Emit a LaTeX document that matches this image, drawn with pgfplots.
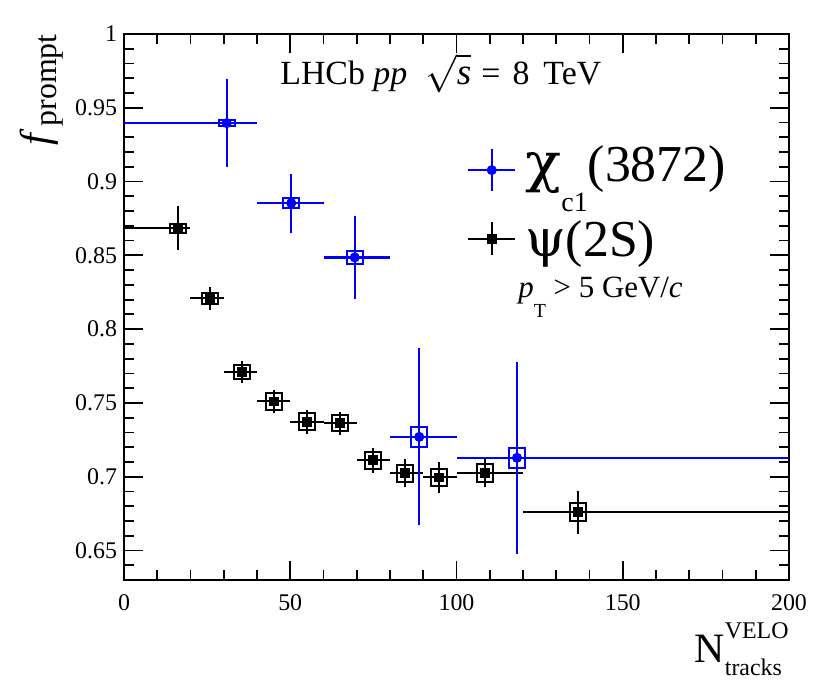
\documentclass[border=0pt]{standalone}
\usepackage{pgfplots}
\pgfplotsset{compat=1.18}
\usepackage{pgfplotstable}
\usepackage{fontspec}
\setmainfont{Liberation Serif}
\newfontfamily\greekfont{DejaVu Serif}

% chi_c1(3872): x, y, x-error minus/plus (bin edges), stat error, box half-height
\pgfplotstableread{
x y exm exp ey sys
30.9 0.9396 30.9 9.1 0.030 0.0025
50.3 0.8854 10.3 9.7 0.020 0.0040
69.4 0.8486 9.4 10.6 0.028 0.0050
88.8 0.7270 8.8 11.2 0.060 0.0073
118.2 0.7128 18.2 81.8 0.065 0.0076
}\chidata

% psi(2S)
\pgfplotstableread{
x y exm exp ey sys
16.3 0.8684 16.3 3.7 0.0150 0.0038
25.9 0.8208 5.9 4.1 0.0080 0.0045
35.5 0.7711 5.5 4.5 0.0073 0.0056
45.1 0.7510 5.1 4.9 0.0079 0.0062
55.1 0.7372 5.1 4.9 0.0081 0.0064
65.0 0.7363 5.0 5.0 0.0078 0.0062
74.8 0.7112 4.8 5.2 0.0085 0.0065
84.6 0.7024 4.6 5.4 0.0096 0.0064
94.6 0.6995 4.6 5.4 0.0104 0.0065
108.6 0.7024 8.6 11.4 0.0094 0.0067
136.6 0.6760 16.6 63.4 0.0146 0.0069
}\psidata

\begin{document}
\begin{tikzpicture}
\useasboundingbox (-62bp,-52bp) rectangle (353bp,290bp);
\begin{axis}[
  scale only axis, width=332.5bp, height=273bp,
  at={(0,0)}, anchor=south west,
  xmin=0, xmax=200, ymin=0.63, ymax=1,
  axis line style={line width=1.1bp},
  tick align=inside, xtick pos=both, ytick pos=both,
  xticklabel pos=lower, yticklabel pos=left,
  major tick length=9.5bp, minor tick length=5bp,
  every tick/.style={black, line width=0.9bp},
  tick label style={font=\fontsize{12}{14}\selectfont},
  xticklabel style={yshift=-4bp},
  /pgf/number format/assume math mode=true,
  xtick={0,50,100,150,200},
  minor xtick={10,20,30,40,60,70,80,90,110,120,130,140,160,170,180,190},
  ytick={0.65,0.7,0.75,0.8,0.85,0.9,0.95,1},
  minor ytick={0.63,0.64,0.66,0.67,0.68,0.69,0.71,0.72,0.73,0.74,0.76,0.77,0.78,0.79,0.81,0.82,0.83,0.84,0.86,0.87,0.88,0.89,0.91,0.92,0.93,0.94,0.96,0.97,0.98,0.99},
  xlabel={{\fontsize{21}{24}\selectfont N}\raisebox{-6.5bp}{\fontsize{12}{14}\selectfont\rlap{tracks}}\raisebox{11.7bp}{\fontsize{12}{14}\selectfont VELO}},
  ylabel={{\fontsize{21}{24}\selectfont\textit{f}}\kern1.5bp\raisebox{-3.5bp}{\fontsize{16}{18}\selectfont prompt}},
  every axis x label/.style={at={(rel axis cs:1,-0.1502)}, anchor=base east, inner sep=0pt},
  every axis y label/.style={at={(rel axis cs:-0.1113,1)}, anchor=base east, rotate=90, inner sep=0pt},
  legend style={at={(0.516,0.8038)}, anchor=north west, draw=none, fill=none,
    inner sep=0pt, outer sep=0pt, row sep=11.5bp,
    font=\fontsize{26}{30}\selectfont,
    nodes={inner sep=0pt, text height=20bp, text depth=6bp},
    cells={anchor=base west},
    /tikz/every odd column/.append style={column sep=4.5bp}},
  reverse legend,
]
% psi(2S) boxes
\addplot[only marks, mark=none, forget plot,
  error bars/.cd, y dir=both, y explicit, error mark=none,
  error bar style={draw=black, solid, line width=9bp}]
  table[x=x, y=y, y error=sys]{\psidata};
\addplot[only marks, mark=none, forget plot,
  error bars/.cd, y dir=both, y explicit, error mark=none,
  error bar style={draw=white, solid, line width=7bp}]
  table[x=x, y=y, y error expr=\thisrow{sys}-0.00136]{\psidata};
% psi(2S) points
\addplot[black, only marks, mark=square*, mark size=2.2bp, mark options={solid, fill=black},
  legend image code/.code={
    \draw[black, line width=1bp] (0bp,8.8bp) -- (23.5bp,8.8bp);
    \draw[black, line width=1bp] (11.75bp,0.5bp) -- (11.75bp,17.1bp);
    \fill[black] (9.55bp,6.6bp) rectangle (13.95bp,11bp);
  },
  error bars/.cd, x dir=both, x explicit, y dir=both, y explicit, error mark=none,
  error bar style={line width=1bp, black, solid}]
  table[x=x, y=y, x error minus=exm, x error plus=exp, y error=ey]{\psidata};
\addlegendentry{{\greekfont ψ}(2S)}
% chi boxes
\addplot[only marks, mark=none, forget plot,
  error bars/.cd, y dir=both, y explicit, error mark=none,
  error bar style={draw=blue, solid, line width=9bp}]
  table[x=x, y=y, y error=sys]{\chidata};
\addplot[only marks, mark=none, forget plot,
  error bars/.cd, y dir=both, y explicit, error mark=none,
  error bar style={draw=white, solid, line width=7bp}]
  table[x=x, y=y, y error expr=\thisrow{sys}-0.00136]{\chidata};
% chi points
\addplot[blue, only marks, mark=*, mark size=2.3bp, mark options={solid, fill=blue},
  legend image code/.code={
    \draw[blue, line width=1.1bp] (0bp,5.5bp) -- (23.5bp,5.5bp);
    \draw[blue, line width=1.1bp] (11.75bp,-5bp) -- (11.75bp,16bp);
    \fill[blue] (11.75bp,5.5bp) circle (2.3bp);
  },
  error bars/.cd, x dir=both, x explicit, y dir=both, y explicit, error mark=none,
  error bar style={line width=1.1bp, blue, solid}]
  table[x=x, y=y, x error minus=exm, x error plus=exp, y error=ey]{\chidata};
\addlegendentry{\scalebox{1.15}[1.05]{\greekfont χ}\raisebox{-15bp}[0pt][0pt]{\fontsize{14}{16}\selectfont c1}(3872)}

\node[anchor=base west, inner sep=0pt, font=\fontsize{17}{20}\selectfont]
  at (axis cs:46.9,0.966) {LHCb \textit{pp}\hspace{9bp}\scalebox{1.1}{$\sqrt{\textit{s}}$}\hspace{5bp}=\hspace{6bp}8\hspace{7bp}TeV};
\node[anchor=base west, inner sep=0pt, font=\fontsize{15.5}{18}\selectfont]
  at (axis cs:118.5,0.8215) {\textit{p}\raisebox{-10bp}{\fontsize{10}{12}\selectfont T} > 5 GeV/\textit{c}};
\end{axis}
\end{tikzpicture}
\end{document}
